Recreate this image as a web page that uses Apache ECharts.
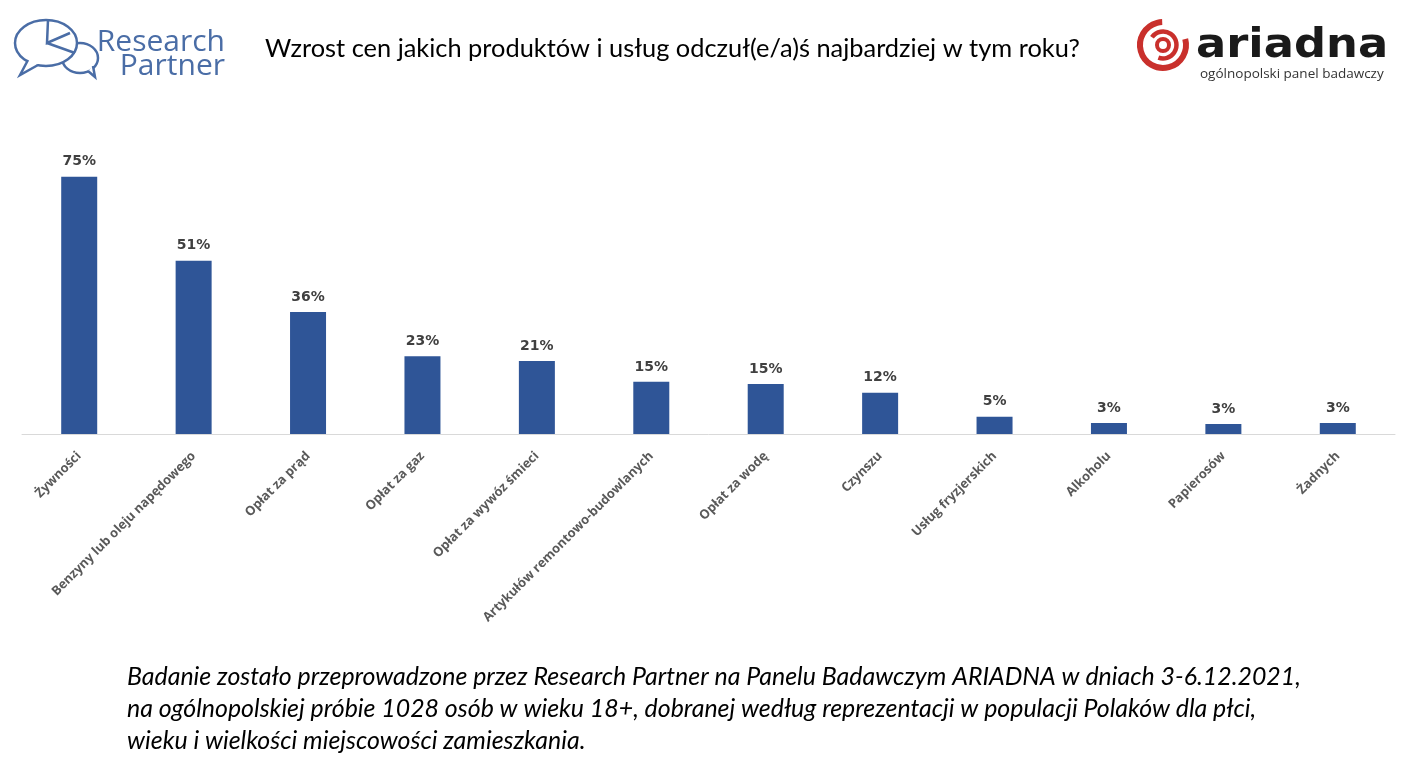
<!DOCTYPE html>
<html>
<head>
<meta charset="utf-8">
<script src="https://cdn.jsdelivr.net/npm/echarts@6/dist/echarts.min.js"></script>
<style>
html,body{margin:0;padding:0;background:#fff;}
#chart{width:1406px;height:764px;}
</style>
</head>
<body>
<div id="chart"></div>
<script>
var categories = ['Żywności','Benzyny lub oleju napędowego','Opłat za prąd','Opłat za gaz','Opłat za wywóz śmieci','Artykułów remontowo-budowlanych','Opłat za wodę','Czynszu','Usług fryzjerskich','Alkoholu','Papierosów','Żadnych'];
var values = [75, 50.5, 35.6, 22.7, 21.3, 15.2, 14.6, 12, 5, 3.2, 2.9, 3.2];
var titleText = 'Wzrost cen jakich produktów i usług odczuł(e/a)ś najbardziej w tym roku?';
var footerLines = [
  'Badanie zostało przeprowadzone przez Research Partner na Panelu Badawczym ARIADNA w dniach 3-6.12.2021,',
  'na ogólnopolskiej próbie 1028 osób w wieku 18+, dobranej według reprezentacji w populacji Polaków dla płci,',
  'wieku i wielkości miejscowości zamieszkania.'
];

var chart = echarts.init(document.getElementById('chart'));
var blue = '#4a6da6';
var red = '#c9302c';
var deg = Math.PI / 180;

var graphics = [
  {type:'text', left:265, top:36, style:{text:titleText, font:'25.4px Lato', fill:'#000'}},
  // Research Partner logo
  {type:'ellipse', shape:{cx:80, cy:58, rx:18, ry:15}, style:{fill:'#fff', stroke:blue, lineWidth:2.5}},
  {type:'polyline', shape:{points:[[88,71],[95,77],[93,66]]}, style:{fill:'#fff', stroke:blue, lineWidth:2.5}},
  {type:'ellipse', shape:{cx:46, cy:43, rx:31, ry:23}, style:{fill:'#fff', stroke:blue, lineWidth:2.5}},
  {type:'polyline', shape:{points:[[28,60],[20,75],[38,65]]}, style:{fill:'#fff', stroke:blue, lineWidth:2.5}},
  {type:'rect', shape:{x:29, y:58, width:10, height:6}, style:{fill:'#fff'}},
  {type:'polyline', shape:{points:[[48,20],[47,43],[70,33]]}, style:{fill:'none', stroke:blue, lineWidth:2.5}},
  {type:'line', shape:{x1:47, y1:43, x2:75, y2:53}, style:{stroke:blue, lineWidth:2.5}},
  {type:'text', right:1406-225, top:27, style:{text:'Research', font:'30px "Open Sans"', fill:blue, textAlign:'right'}},
  {type:'text', right:1406-225, top:51, style:{text:'Partner', font:'30px "Open Sans"', fill:blue, textAlign:'right'}},
  // ARIADNA logo
  {type:'arc', shape:{cx:1163, cy:45, r:23, startAngle:-15*deg, endAngle:268*deg, clockwise:true}, style:{fill:'none', stroke:red, lineWidth:6}},
  {type:'arc', shape:{cx:1163, cy:45, r:13.5, startAngle:215*deg, endAngle:470*deg, clockwise:true}, style:{fill:'none', stroke:red, lineWidth:4.5}},
  {type:'circle', shape:{cx:1163, cy:45, r:6}, style:{fill:'none', stroke:red, lineWidth:4}},
  {type:'text', x:1196, y:27, scaleX:1.12, style:{text:'ariadna', font:'bold 40px "DejaVu Sans"', fill:'#1a1a1a'}},
  {type:'text', left:1200, top:67, style:{text:'ogólnopolski panel badawczy', font:'13.5px "Open Sans"', fill:'#333'}}
];
footerLines.forEach(function(t, i){
  graphics.push({type:'text', left:127, top:664 + i*32, style:{text:t, font:'italic 24.9px Lato', fill:'#000'}});
});

chart.setOption({
  animation:false,
  grid:{left:22, right:11, top:91, bottom:330, containLabel:false},
  xAxis:{
    type:'category', data:categories,
    axisLine:{show:true, lineStyle:{color:'#d9d9d9', width:1}},
    axisTick:{show:false},
    axisLabel:{interval:0, rotate:45, margin:20, color:'#595959', fontFamily:'Open Sans', fontWeight:'bold', fontSize:12.8}
  },
  yAxis:{type:'value', min:0, max:100, show:false, splitLine:{show:false}},
  series:[{
    type:'bar', data:values, barWidth:36,
    itemStyle:{color:'#2f5597'},
    label:{show:true, position:'top', distance:8, color:'#404040', fontFamily:'DejaVu Sans', fontWeight:'bold', fontSize:14,
      formatter:function(p){return Math.round(p.value) + '%';}}
  }],
  graphic:graphics
});
</script>
</body>
</html>
